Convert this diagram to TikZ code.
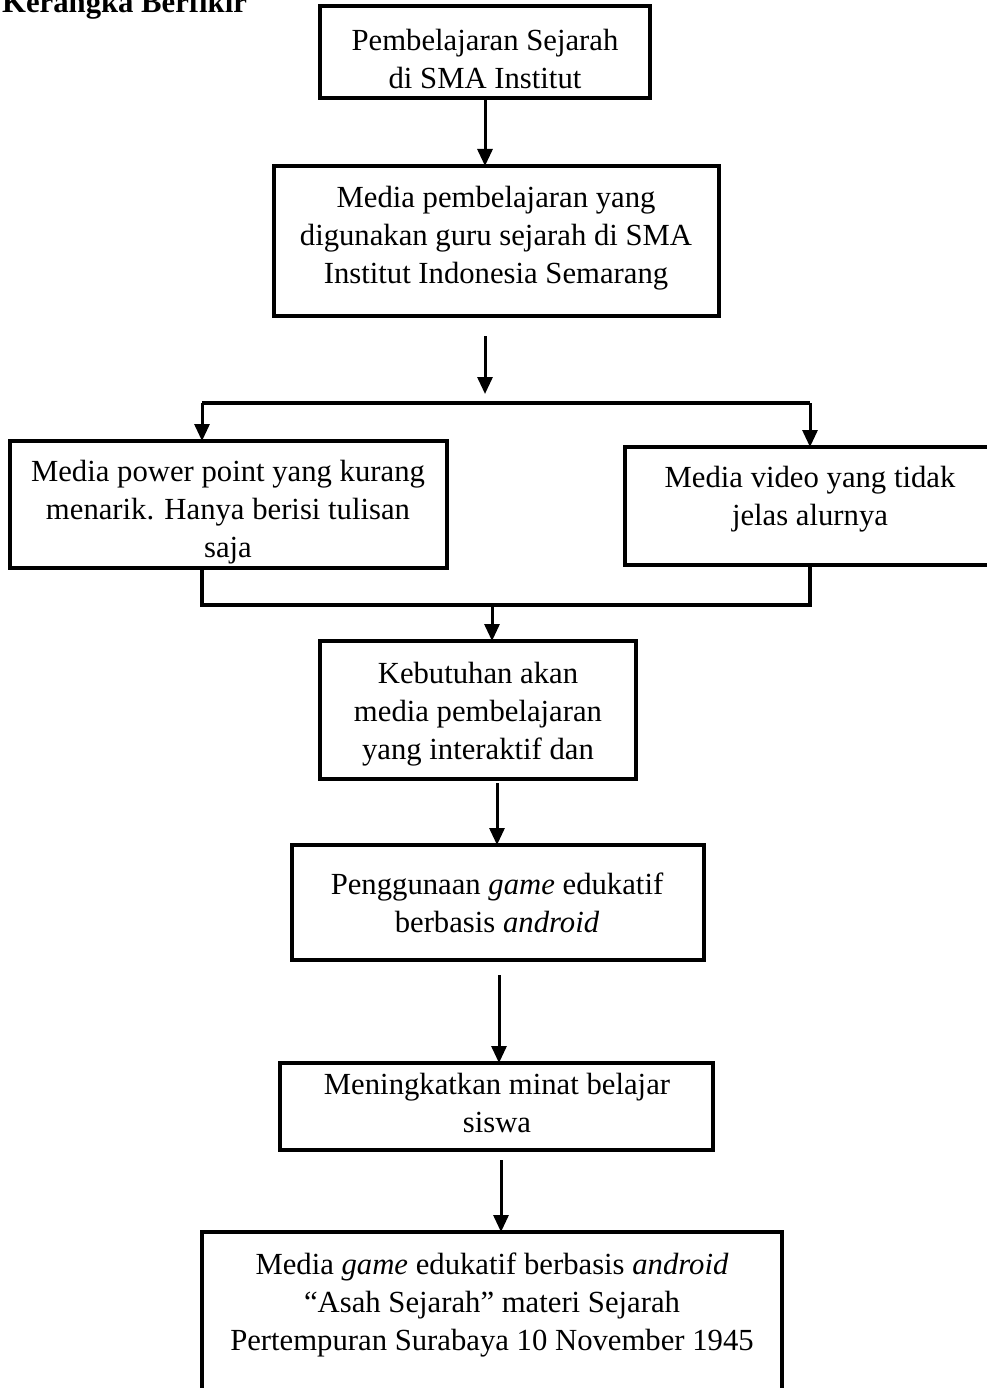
\documentclass[tikz,border=0pt]{standalone}
\usepackage{fontspec}
\setmainfont{Liberation Serif}
\usetikzlibrary{arrows.meta,calc}
\begin{document}
\begin{tikzpicture}[x=1pt,y=-1pt,
  box/.style={draw, line width=3.5pt, inner sep=0pt, outer sep=0pt},
  txt/.style={align=center, inner sep=0pt, font=\fontsize{30.7}{38}\selectfont},
  arr/.style={line width=3pt, -{Triangle[width=15pt,length=17pt]}},
  ln/.style={line width=3.5pt}]
\useasboundingbox (0,0) rectangle (986,1388);

\node[anchor=base west, inner sep=0pt, font=\fontsize{30.7}{38}\selectfont\bfseries] (title) at (2,13) {Kerangka Berfikir};

\node[box, minimum width=330pt, minimum height=92pt] (b1) at (485,52) {};
\node[box, minimum width=445pt, minimum height=150pt] (b2) at (496.5,241) {};
\node[box, minimum width=437pt, minimum height=127pt] (b3) at (228.5,504.5) {};
\node[box, minimum width=365pt, minimum height=118pt] (b4) at (807.5,506) {};
\node[box, minimum width=316pt, minimum height=138pt] (b5) at (478,710) {};
\node[box, minimum width=412pt, minimum height=115pt] (b6) at (498,902.5) {};
\node[box, minimum width=433pt, minimum height=87pt] (b7) at (496.5,1106.5) {};
\node[box, minimum width=580pt, minimum height=168pt] (b8) at (492,1316) {};

\node[txt] (t1) at (485,59) {Pembelajaran Sejarah\\di SMA Institut};
\node[txt] (t2) at (496,238) {Media pembelajaran yang\\digunakan guru sejarah di SMA\\Institut Indonesia Semarang};
\node[txt] (t3) at (228,512) {Media power point yang kurang\\menarik. Hanya berisi tulisan\\saja};
\node[txt] (t4) at (810,499) {Media video yang tidak\\jelas alurnya};
\node[txt] (t5) at (478,714) {Kebutuhan akan\\media pembelajaran\\yang interaktif dan};
\node[txt] (t6) at (497,903) {Penggunaan \textit{game} edukatif\\berbasis \textit{android}};
\node[txt] (t7) at (497,1103) {Meningkatkan minat belajar\\siswa};
\node[txt] (t8) at (492,1305) {Media \textit{game} edukatif berbasis \textit{android}\\``Asah Sejarah'' materi Sejarah\\Pertempuran Surabaya 10 November 1945};

\coordinate (a2) at (485,336);
\coordinate (a2e) at (485,394);
\coordinate (brL) at (202,403);
\coordinate (brR) at (810,403);
\coordinate (mL) at (202,605);
\coordinate (mR) at (810,605);
\coordinate (m) at (492,605);
\coordinate (a5) at (497,783);
\coordinate (a6) at (499,975);
\coordinate (a7) at (501,1160);

\draw[arr] (b1.south) -- (b1.south |- b2.north);
\draw[arr] (a2) -- (a2e);
\draw[ln] (brL) -- (brR);
\draw[arr] (brL) -- (brL |- b3.north);
\draw[arr] (brR) -- (brR |- b4.north);
\draw[ln] (mL |- b3.south) -- (mL) -- (mR) -- (mR |- b4.south);
\draw[arr] (m) -- (m |- b5.north);
\draw[arr] (a5) -- (a5 |- b6.north);
\draw[arr] (a6) -- (a6 |- b7.north);
\draw[arr] (a7) -- (a7 |- b8.north);
\end{tikzpicture}
\end{document}
